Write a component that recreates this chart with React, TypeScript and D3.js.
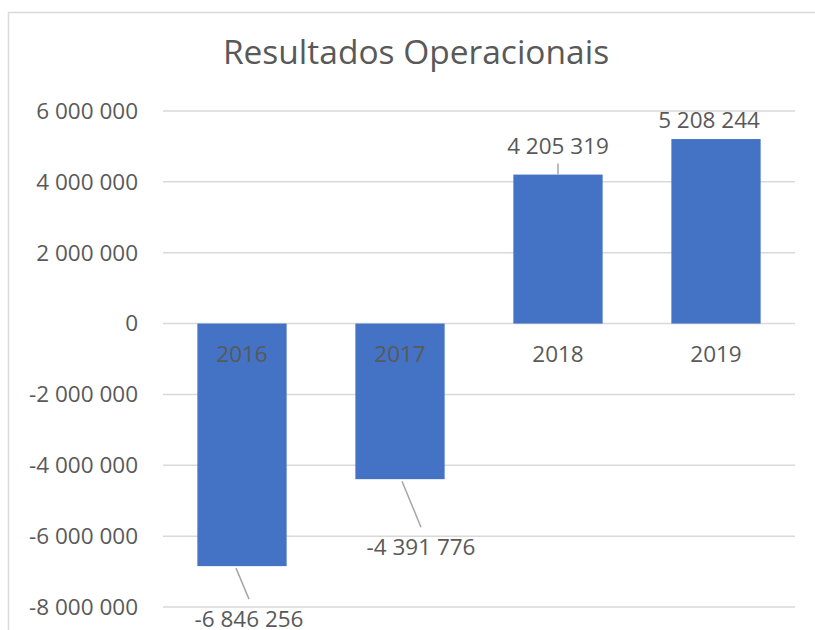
import React from "react";
import * as d3 from "d3";

// values
const years = ["2016", "2017", "2018", "2019"];
const results = [-6846256, -4391776, 4205319, 5208244];
const yTicks = [-8000000, -6000000, -4000000, -2000000, 0, 2000000, 4000000, 6000000];

// where each data label sits relative to the bar end (leader lines as in Excel)
const labelNudge = [
  { dx: 7, dy: 53, leader: true },
  { dx: 21, dy: 68, leader: true },
  { dx: 0, dy: -28, leader: true },
  { dx: -7, dy: -19, leader: false },
];

const W = 815;
const H = 630;
const margin = { top: 111, right: 20, bottom: 23, left: 163 };
const FONT = "'Open Sans', 'Segoe UI', sans-serif";
const TEXT = "#595959";
const GRID = "#d9d9d9";
const BAR = "#4472C4";
const FS = 22.5;

const fmt = d3.formatLocale({
  decimal: ",",
  thousands: "\u00a0",
  grouping: [3],
  currency: ["", ""],
  minus: "-",
}).format(",d");

export default function App() {
  const x = d3
    .scaleBand()
    .domain(years)
    .range([margin.left, W - margin.right])
    .paddingInner(0.435)
    .paddingOuter(0.2175);

  const y = d3
    .scaleLinear()
    .domain([-8000000, 6000000])
    .range([H - margin.bottom, margin.top]);

  const zero = y(0);

  return (
    <svg
      width={W}
      height={H}
      style={{ position: "fixed", left: 0, top: 0, background: "#fff" }}
      fontFamily={FONT}
    >
      <rect x={8.5} y={12.5} width={W + 20} height={H + 20} fill="#fff" stroke={GRID} strokeWidth={1.5} />

      <text x={416} y={64} textAnchor="middle" fontSize={33.5} fill={TEXT}>
        Resultados Operacionais
      </text>

      {/* gridlines and y labels */}
      <g>
        {yTicks.map((t) => (
          <g key={t}>
            <line
              x1={margin.left}
              x2={W - margin.right}
              y1={y(t)}
              y2={y(t)}
              stroke={GRID}
              strokeWidth={1.5}
            />
            <text x={138} y={y(t)} dy="0.35em" textAnchor="end" fontSize={FS} fill={TEXT}>
              {fmt(t)}
            </text>
          </g>
        ))}
      </g>

      {/* bars */}
      <g>
        {results.map((v, i) => (
          <rect
            key={years[i]}
            x={x(years[i])}
            width={x.bandwidth()}
            y={Math.min(y(v), zero)}
            height={Math.abs(y(v) - zero)}
            fill={BAR}
          />
        ))}
      </g>

      {/* category labels sit just under the zero line */}
      <g>
        {years.map((yr) => (
          <text
            key={yr}
            x={x(yr) + x.bandwidth() / 2}
            y={zero + 31}
            dy="0.35em"
            textAnchor="middle"
            fontSize={FS}
            fill={TEXT}
          >
            {yr}
          </text>
        ))}
      </g>

      {/* data labels with leader lines */}
      <g>
        {results.map((v, i) => {
          const cx = x(years[i]) + x.bandwidth() / 2;
          const by = y(v);
          const n = labelNudge[i];
          const lx = cx + n.dx;
          const ly = by + n.dy;
          const down = n.dy > 0;
          return (
            <g key={years[i]}>
              {n.leader && (
                <line
                  x1={cx + (down ? -6 + (i === 1 ? 8 : 0) : 0)}
                  y1={by + (down ? 2 : 0)}
                  x2={lx}
                  y2={down ? ly - 20 : ly + 17}
                  stroke="#a6a6a6"
                  strokeWidth={1.5}
                />
              )}
              <text x={lx} y={ly} dy="0.35em" textAnchor="middle" fontSize={FS} fill={TEXT}>
                {fmt(v)}
              </text>
            </g>
          );
        })}
      </g>
    </svg>
  );
}
